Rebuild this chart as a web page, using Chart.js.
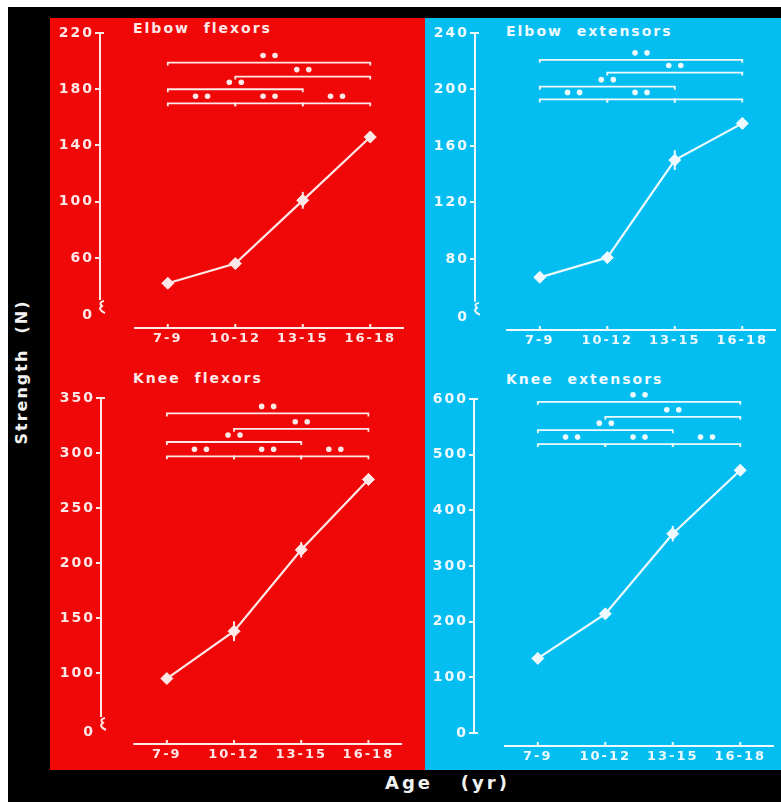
<!DOCTYPE html>
<html>
<head>
<meta charset="utf-8">
<script src="https://cdn.jsdelivr.net/npm/chart.js@4.4.0/dist/chart.umd.min.js"></script>
<style>
  html, body { margin: 0; padding: 0; }
  body {
    width: 781px; height: 802px; position: relative; overflow: hidden;
    background: #000; font-family: "DejaVu Sans", sans-serif;
  }
  .edge { position: absolute; background: #fff; }
  .panel { position: absolute; top: 18px; height: 752px; }
  #red { left: 50px; width: 375px; background: #f00707; }
  #blue { left: 425px; width: 356px; background: #04bef2; }
  .title {
    position: absolute; font-size: 14px; font-weight: bold; line-height: 16px;
    letter-spacing: 2px; white-space: pre;
  }
  .axis-label {
    position: absolute; color: #f2f2f2; font-weight: bold; white-space: pre;
  }
  canvas { position: absolute; }
</style>
</head>
<body>
<div class="edge" style="left:0;top:0;width:781px;height:7px"></div>
<div class="edge" style="left:0;top:0;width:8px;height:802px"></div>
<div class="panel" id="red"></div>
<div class="panel" id="blue"></div>

<div class="title" style="left:133px;top:20px;color:#ffe8e8">Elbow  flexors</div>
<div class="title" style="left:506px;top:23px;color:#effaff">Elbow  extensors</div>
<div class="title" style="left:133px;top:370px;color:#ffe8e8">Knee  flexors</div>
<div class="title" style="left:506px;top:371px;color:#effaff">Knee  extensors</div>

<div class="axis-label" style="left:21px;top:372px;font-size:16px;letter-spacing:2px;transform:translate(-50%,-50%) rotate(-90deg)">Strength  (N)</div>
<div class="axis-label" style="left:385px;top:772px;font-size:18px;line-height:22px;letter-spacing:3px">Age   (yr)</div>

<script>
const ageGroups = ['7-9', '10-12', '13-15', '16-18'];

// mean strength (N) and SEM for each age group
const elbowFlexors = [42, 56, 101, 146];
const elbowFlexorsSem = [2, 3, 6, 4];
const elbowExtensors = [67, 81, 150, 176];
const elbowExtensorsSem = [2, 4, 7, 4];
const kneeFlexors = [95, 138, 212, 276];
const kneeFlexorsSem = [4, 9, 7, 5];
const kneeExtensors = [134, 214, 358, 472];
const kneeExtensorsSem = [5, 8, 14, 10];

// y axis ticks
const elbowFlexorsTicks = [60, 100, 140, 180, 220];
const elbowExtensorsTicks = [80, 120, 160, 200, 240];
const kneeFlexorsTicks = [100, 150, 200, 250, 300, 350];
const kneeExtensorsTicks = [0, 100, 200, 300, 400, 500, 600];

// significance bars: [from group, to group, level (N), mark]
const elbowFlexorsSig = [[0, 3, 199, '**'], [1, 3, 189, '**'], [0, 2, 180, '**'],
                         [0, 1, 170, '**'], [1, 2, 170, '**'], [2, 3, 170, '**']];
const elbowExtensorsSig = [[0, 3, 221, '**'], [1, 3, 212, '**'], [0, 2, 202, '**'],
                           [0, 1, 193, '**'], [1, 2, 193, '**'], [2, 3, 193, '']];
const kneeFlexorsSig = [[0, 3, 336, '**'], [1, 3, 322, '**'], [0, 2, 310, '**'],
                        [0, 1, 297, '**'], [1, 2, 297, '**'], [2, 3, 297, '**']];
const kneeExtensorsSig = [[0, 3, 595, '**'], [1, 3, 568, '**'], [0, 2, 544, '**'],
                          [0, 1, 519, '**'], [1, 2, 519, '**'], [2, 3, 519, '**']];

const RED_INK = '#ffe8e8';
const BLUE_INK = '#effaff';
const FONT = '"DejaVu Sans", sans-serif';

// zeroAt: where the "0" sits below the axis break (null = unbroken axis)
const panels = [
    { values: elbowFlexors, sem: elbowFlexorsSem, ticks: elbowFlexorsTicks, sig: elbowFlexorsSig,
      yMin: 10.2, yMax: 220, zeroAt: 19.4, ink: RED_INK,
      axisX: 100, firstCat: 168, lastCat: 371, top: 33, bottom: 328 },
    { values: elbowExtensors, sem: elbowExtensorsSem, ticks: elbowExtensorsTicks, sig: elbowExtensorsSig,
      yMin: 29.7, yMax: 240, zeroAt: 39, ink: BLUE_INK,
      axisX: 475, firstCat: 540, lastCat: 743, top: 33, bottom: 330 },
    { values: kneeFlexors, sem: kneeFlexorsSem, ticks: kneeFlexorsTicks, sig: kneeFlexorsSig,
      yMin: 35.5, yMax: 350, zeroAt: 46.4, ink: RED_INK,
      axisX: 101, firstCat: 167, lastCat: 369, top: 398, bottom: 744 },
    { values: kneeExtensors, sem: kneeExtensorsSem, ticks: kneeExtensorsTicks, sig: kneeExtensorsSig,
      yMin: -23.4, yMax: 600, zeroAt: null, ink: BLUE_INK,
      axisX: 474, firstCat: 538, lastCat: 741, top: 399, bottom: 746 }
];

const Y_AXIS_W = 55, X_AXIS_H = 28, PAD_TOP = 14, PAD_RIGHT = 8;

// letter spacing for the axis tick labels
const spacing = {
    id: 'spacing',
    beforeUpdate(chart) { chart.ctx.letterSpacing = '2px'; },
    beforeDraw(chart) { chart.ctx.letterSpacing = '2px'; }
};

function makeDecor(p) {
    return {
        id: 'decor',
        beforeDatasetsDraw(chart) {
            const { ctx, scales: { x, y } } = chart;
            ctx.save();
            ctx.strokeStyle = p.ink;
            ctx.lineWidth = 2;
            // error bars
            p.values.forEach((v, i) => {
                const px = x.getPixelForValue(i);
                ctx.beginPath();
                ctx.moveTo(px, y.getPixelForValue(v - p.sem[i]));
                ctx.lineTo(px, y.getPixelForValue(v + p.sem[i]));
                ctx.stroke();
            });
            ctx.restore();
        },
        afterDraw(chart) {
            const { ctx, chartArea, scales: { x, y } } = chart;
            ctx.save();
            ctx.strokeStyle = p.ink;
            ctx.fillStyle = p.ink;
            ctx.lineWidth = 2;

            // y axis line, with a break above the zero when needed
            const ax = chartArea.left;
            const yTop = y.getPixelForValue(p.yMax);
            ctx.beginPath();
            ctx.moveTo(ax + 4, yTop);
            ctx.lineTo(ax, yTop);
            if (p.zeroAt !== null) {
                const yz = y.getPixelForValue(p.zeroAt);
                const yb = yz - 15;
                ctx.lineTo(ax, yb);
                ctx.moveTo(ax + 4, yb + 1);
                ctx.quadraticCurveTo(ax - 2, yb + 2, ax + 2, yb + 6);
                ctx.quadraticCurveTo(ax - 3, yb + 9, ax + 5, yb + 13);
            } else {
                const y0 = y.getPixelForValue(0);
                ctx.lineTo(ax, y0);
                ctx.lineTo(ax + 4, y0);
            }
            ctx.stroke();

            // x axis line with small ticks at each age group
            const xb = chartArea.bottom;
            ctx.beginPath();
            ctx.moveTo(x.getPixelForValue(-0.5), xb);
            ctx.lineTo(x.getPixelForValue(3.5), xb);
            ageGroups.forEach((_, i) => {
                const px = x.getPixelForValue(i);
                ctx.moveTo(px, xb);
                ctx.lineTo(px, xb - 4);
            });
            ctx.stroke();

            // significance bars
            ctx.lineWidth = 1.8;
            p.sig.forEach(([from, to, level, mark]) => {
                const x1 = x.getPixelForValue(from);
                const x2 = x.getPixelForValue(to);
                const ly = y.getPixelForValue(level);
                ctx.beginPath();
                ctx.moveTo(x1, ly + 3);
                ctx.lineTo(x1, ly);
                ctx.lineTo(x2, ly);
                ctx.lineTo(x2, ly + 3);
                ctx.stroke();
                const cx = (x1 + x2) / 2;
                const n = mark.length;
                for (let k = 0; k < n; k++) {
                    ctx.beginPath();
                    ctx.arc(cx + (k - (n - 1) / 2) * 12, ly - 7, 2.8, 0, Math.PI * 2);
                    ctx.fill();
                }
            });
            ctx.restore();
        }
    };
}

panels.forEach(p => {
    const step = (p.lastCat - p.firstCat) / 3;
    const xMin = (p.axisX - p.firstCat) / step;
    const xMax = 3.5;
    const plotW = (xMax - xMin) * step;
    const plotH = p.bottom - p.top;

    const canvas = document.createElement('canvas');
    canvas.width = Y_AXIS_W + plotW + PAD_RIGHT;
    canvas.height = PAD_TOP + plotH + X_AXIS_H;
    canvas.style.left = (p.axisX - Y_AXIS_W) + 'px';
    canvas.style.top = (p.top - PAD_TOP) + 'px';
    document.body.appendChild(canvas);

    const yTicks = p.zeroAt !== null ? [p.zeroAt].concat(p.ticks) : p.ticks;

    new Chart(canvas.getContext('2d'), {
        type: 'line',
        data: {
            datasets: [{
                data: p.values.map((v, i) => ({ x: i, y: v })),
                borderColor: p.ink,
                borderWidth: 2.2,
                backgroundColor: p.ink,
                pointStyle: 'rectRot',
                pointRadius: 6,
                pointBorderWidth: 1,
                tension: 0,
                clip: false
            }]
        },
        options: {
            responsive: false,
            animation: false,
            events: [],
            layout: { padding: { top: PAD_TOP, right: PAD_RIGHT, bottom: 0, left: 0 } },
            plugins: {
                legend: { display: false },
                tooltip: { enabled: false }
            },
            scales: {
                x: {
                    type: 'linear',
                    min: xMin,
                    max: xMax,
                    bounds: 'data',
                    grid: { display: false, drawTicks: false },
                    border: { display: false },
                    afterBuildTicks: s => { s.ticks = ageGroups.map((_, i) => ({ value: i })); },
                    afterFit: s => { s.height = X_AXIS_H; },
                    ticks: {
                        color: p.ink,
                        font: { family: FONT, size: 13, weight: 'bold' },
                        padding: 3,
                        autoSkip: false,
                        maxRotation: 0,
                        callback: v => ageGroups[v]
                    }
                },
                y: {
                    type: 'linear',
                    min: p.yMin,
                    max: p.yMax,
                    bounds: 'data',
                    border: { display: false },
                    grid: {
                        drawOnChartArea: false,
                        tickLength: 5,
                        lineWidth: 2,
                        color: c => (c.tick && c.tick.value === p.zeroAt) ? 'rgba(0,0,0,0)' : p.ink
                    },
                    afterBuildTicks: s => { s.ticks = yTicks.map(v => ({ value: v })); },
                    afterFit: s => { s.width = Y_AXIS_W; },
                    ticks: {
                        color: p.ink,
                        font: { family: FONT, size: 14, weight: 'bold' },
                        padding: 1,
                        autoSkip: false,
                        callback: v => (v === p.zeroAt ? '0' : String(v))
                    }
                }
            }
        },
        plugins: [spacing, makeDecor(p)]
    });
});
</script>
</body>
</html>
